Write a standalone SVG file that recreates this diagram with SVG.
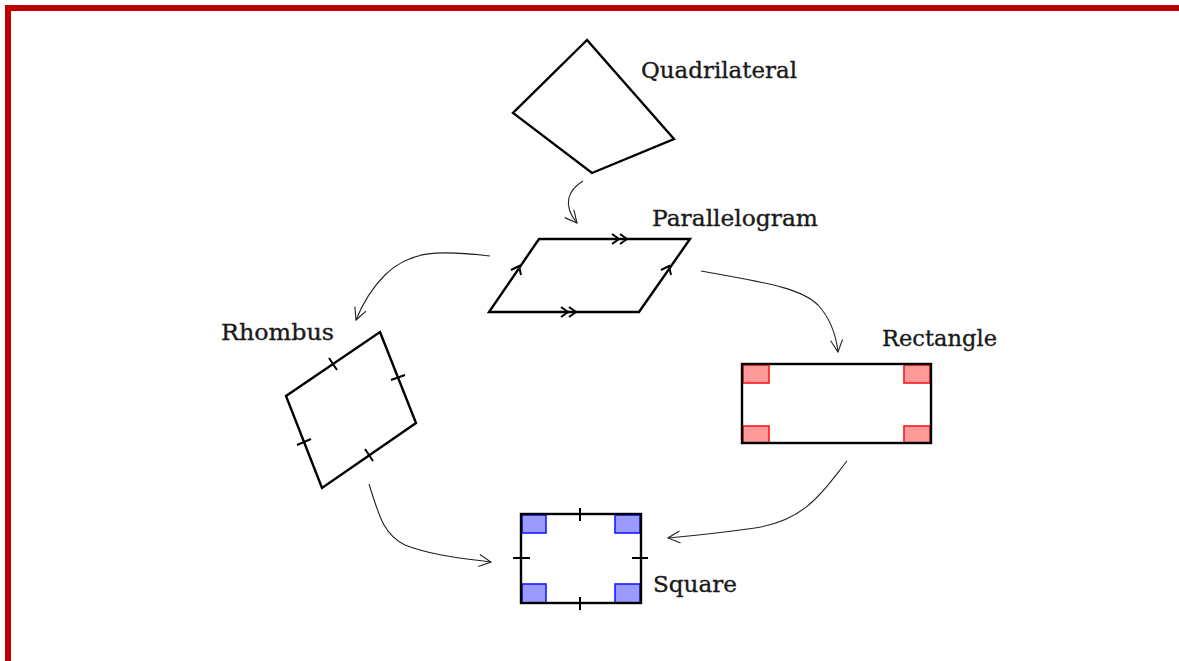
<svg xmlns="http://www.w3.org/2000/svg" width="1179" height="661" viewBox="0 0 1179 661">
<defs>
<style>
.shape{fill:none;stroke:#000;stroke-width:2.4;stroke-linejoin:miter}
.tick{fill:none;stroke:#000;stroke-width:2}
.conn{fill:none;stroke:#222;stroke-width:1.1}
.lbl{font-family:"DejaVu Serif","Liberation Serif",serif;font-size:22.5px;fill:#1a1a1a;stroke:#1a1a1a;stroke-width:0.35}
.red{fill:#ff9a9a;stroke:#ff1a1a;stroke-width:1.6}
.blue{fill:#9a9aff;stroke:#1a1aff;stroke-width:1.6}
</style>
<marker id="ah" viewBox="0 0 14 14" refX="13" refY="7" markerWidth="14" markerHeight="14" markerUnits="userSpaceOnUse" orient="auto">
<path d="M1,1 L13,7 L1,13" fill="none" stroke="#222" stroke-width="1.1"/>
</marker>
</defs>
<rect x="0" y="0" width="1179" height="661" fill="#fff"/>
<path d="M8,661 V8 H1179" fill="none" stroke="#c00000" stroke-width="6"/>

<g id="quadrilateral">
<polygon class="shape" points="587,40 513,113 592,173 674,139"/>
<text class="lbl" x="641" y="78" textLength="156" lengthAdjust="spacingAndGlyphs">Quadrilateral</text>
</g>

<g id="parallelogram">
<polygon class="shape" points="539,239 690,239 639,312 489,312"/>
<path class="tick" d="M612,234 L619,239 L612,244 M620,234 L627,239 L620,244"/>
<path class="tick" d="M561,307 L568,312 L561,317 M569,307 L576,312 L569,317"/>
<path class="tick" d="M511,270 L519,266 L521,275"/>
<path class="tick" d="M661,270 L669,266 L671,275"/>
<text class="lbl" x="652" y="226" textLength="166" lengthAdjust="spacingAndGlyphs">Parallelogram</text>
</g>

<g id="rhombus">
<polygon class="shape" points="380,332 416,423 322,488 286,396"/>
<path class="tick" d="M329,358 L337,370 M391,380 L405,375 M365,449 L373,461 M297,445 L311,439"/>
<text class="lbl" x="221" y="340" textLength="113" lengthAdjust="spacingAndGlyphs">Rhombus</text>
</g>

<g id="rectangle">
<rect class="red" x="743" y="365" width="26" height="18"/>
<rect class="red" x="904" y="365" width="26" height="18"/>
<rect class="red" x="743" y="426" width="26" height="17"/>
<rect class="red" x="904" y="426" width="26" height="17"/>
<rect class="shape" x="742" y="364" width="189" height="79"/>
<text class="lbl" x="882" y="346" textLength="115" lengthAdjust="spacingAndGlyphs">Rectangle</text>
</g>

<g id="square">
<rect class="blue" x="522" y="515" width="24" height="18"/>
<rect class="blue" x="615" y="515" width="25" height="18"/>
<rect class="blue" x="522" y="584" width="24" height="19"/>
<rect class="blue" x="615" y="584" width="25" height="19"/>
<rect class="shape" x="521" y="514" width="120" height="89"/>
<path class="tick" d="M580,508 V521 M580,597 V610 M513,558 H530 M632,558 H648"/>
<text class="lbl" x="653" y="592" textLength="84" lengthAdjust="spacingAndGlyphs">Square</text>
</g>

<g id="connectors">
<path class="conn" marker-end="url(#ah)" d="M583,181 C568,190 562,205 577,223"/>
<path class="conn" marker-end="url(#ah)" d="M490,256 C440,250 410,250 385,275 C370,290 362,305 356,320"/>
<path class="conn" marker-end="url(#ah)" d="M701,271 C760,282 800,287 818,305 C830,318 836,335 838,352"/>
<path class="conn" marker-end="url(#ah)" d="M847,461 C820,495 805,520 755,528 C720,533 690,536 668,538"/>
<path class="conn" marker-end="url(#ah)" d="M369,484 C380,520 385,535 405,545 C430,555 460,558 491,562"/>
</g>
</svg>
